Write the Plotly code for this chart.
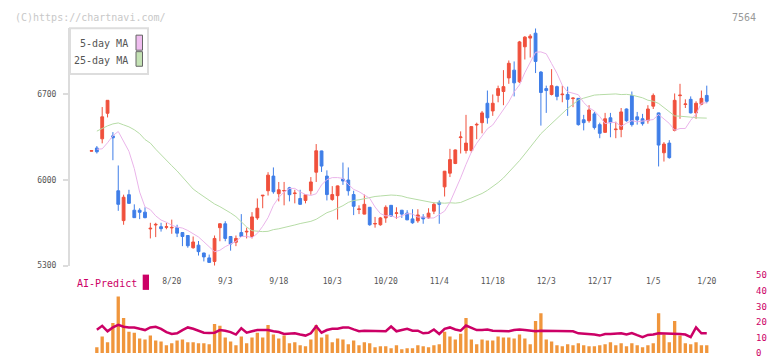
import plotly.graph_objects as go

W, H = 772, 361

# ---------------- data ----------------
opens = [6236, 6262, 6337, 6546, 6361, 5912, 5668, 5880, 5753, 5753,
         5737, 5600, 5632, 5618, 5613, 5608, 5610, 5570, 5546, 5446,
         5467, 5403, 5363, 5334, 5610, 5642, 5538, 5491, 5570, 5575,
         5538, 5690, 5870, 5912, 6032, 5888, 5910, 5936, 5889, 5849,
         5833, 5912, 6064, 6238, 6032, 5841, 5872, 6008, 6000, 5881,
         5759, 5721, 5777, 5640, 5634, 5690, 5793, 5727, 5753, 5729,
         5682, 5666, 5698, 5690, 5745, 5817, 5944, 6056, 6135, 6347,
         6241, 6241, 6450, 6469, 6628, 6565, 6692, 6724, 6835, 6899,
         6803, 7090, 7161, 7201, 6883, 6748, 6700, 6764, 6698, 6700,
         6666, 6668, 6493, 6485, 6541, 6453, 6390, 6509, 6412, 6414,
         6581, 6692, 6517, 6501, 6485, 6604, 6549, 6223, 6302, 6406,
         6690, 6618, 6660, 6549, 6620, 6692]
highs = [6242, 6278, 6597, 6652, 6392, 6119, 5880, 5920, 5801, 5769,
         5777, 5650, 5650, 5650, 5650, 5676, 5634, 5572, 5548, 5538,
         5501, 5405, 5390, 5546, 5645, 5663, 5540, 5546, 5721, 5610,
         5737, 5849, 5877, 6064, 6103, 5984, 5984, 5944, 5920, 5920,
         5882, 6024, 6294, 6240, 6079, 5950, 5955, 6143, 6103, 5912,
         5793, 5881, 5779, 5698, 5698, 5793, 5795, 5777, 5755, 5753,
         5761, 5761, 5721, 5769, 5817, 5833, 6074, 6255, 6250, 6398,
         6533, 6440, 6469, 6565, 6732, 6700, 6772, 6899, 6978, 6970,
         7138, 7177, 7193, 7241, 6891, 6772, 6907, 6772, 6772, 6764,
         6676, 6670, 6533, 6612, 6557, 6469, 6549, 6549, 6477, 6589,
         6585, 6724, 6557, 6541, 6612, 6708, 6551, 6310, 6326, 6708,
         6787, 6660, 6684, 6644, 6732, 6772]
lows = [6234, 6217, 6300, 6512, 6162, 5748, 5634, 5805, 5690, 5680,
        5687, 5522, 5533, 5578, 5597, 5560, 5533, 5459, 5446, 5438,
        5382, 5334, 5322, 5292, 5499, 5499, 5422, 5459, 5536, 5522,
        5522, 5674, 5769, 5873, 5888, 5825, 5793, 5825, 5809, 5799,
        5809, 5880, 5984, 6066, 5833, 5830, 5676, 5960, 5872, 5713,
        5721, 5719, 5626, 5610, 5626, 5650, 5698, 5682, 5690, 5672,
        5642, 5650, 5642, 5682, 5721, 5642, 5865, 6024, 6130, 6217,
        6217, 6225, 6334, 6382, 6461, 6525, 6636, 6612, 6787, 6684,
        6795, 6986, 7002, 6875, 6445, 6549, 6692, 6652, 6636, 6525,
        6596, 6445, 6406, 6469, 6413, 6342, 6388, 6350, 6342, 6350,
        6477, 6437, 6453, 6445, 6461, 6581, 6111, 6151, 6175, 6398,
        6501, 6589, 6545, 6501, 6612, 6628]
closes = [6240, 6231, 6517, 6652, 6345, 5801, 5859, 5809, 5692, 5736,
          5692, 5605, 5637, 5602, 5618, 5612, 5565, 5538, 5462, 5493,
          5414, 5371, 5326, 5522, 5642, 5522, 5477, 5522, 5538, 5580,
          5698, 5769, 5875, 6040, 5904, 5920, 5914, 5880, 5893, 5801,
          5880, 5984, 6239, 6114, 5881, 5881, 5952, 5992, 5912, 5785,
          5763, 5801, 5634, 5644, 5690, 5777, 5706, 5731, 5721, 5674,
          5650, 5714, 5682, 5729, 5801, 5801, 6072, 6167, 6246, 6352,
          6302, 6437, 6455, 6549, 6509, 6628, 6748, 6764, 6955, 6795,
          7130, 7169, 7177, 6970, 6716, 6732, 6772, 6684, 6702, 6660,
          6670, 6453, 6469, 6573, 6429, 6382, 6501, 6469, 6416, 6557,
          6485, 6453, 6493, 6461, 6581, 6692, 6286, 6294, 6183, 6652,
          6694, 6622, 6549, 6628, 6668, 6644]

# moving-average values at the first days (window reaches before the chart)
ma5_head = [6252, 6255, 6305, 6363]
ma25_head = [6400, 6424, 6443, 6459, 6467, 6451, 6435, 6411, 6379, 6331,
             6302, 6252, 6204, 6159, 6117, 6074, 6026, 5979, 5926, 5894,
             5862, 5835, 5804, 5782]

# lower panel (days 1..115)
volume = [3.75, 10.6, 6.9, 19.4, 36.3, 22.5, 13.75, 13.1, 9.4, 8.75,
          11.25, 8.1, 7.5, 5, 6.25, 8.1, 8.75, 6.9, 6.9, 6.25,
          6.25, 5.6, 18.75, 17.5, 10, 7.5, 5, 10.6, 6.25, 10,
          13.1, 10, 18.1, 11.9, 9.4, 11.25, 6.25, 6.9, 5, 4.4,
          8.75, 18.1, 10, 11.9, 6.9, 9.4, 8.75, 5.6, 8.1, 5,
          6.9, 6.25, 3.75, 4.4, 4.4, 3.1, 5, 2.5, 3.1, 3.1,
          5, 4.4, 3.75, 5, 5.6, 13.75, 10.6, 8.75, 12.5, 22.5,
          8.75, 5.6, 8.75, 8.1, 8.1, 10.6, 10, 10, 9.4, 11.9,
          9.4, 5.6, 20.6, 25.6, 8.75, 7.5, 5, 4.4, 5.6, 5,
          6.25, 5, 4.4, 4.4, 5, 5.6, 6.9, 5, 6.25, 4.4,
          6.25, 5, 3.75, 5, 6.25, 25.6, 11.9, 6.9, 20.6, 11.25,
          6.25, 5.6, 6.9, 5, 5]
ai_predict = [15.0, 17.5, 14.0, 16.5, 18.1, 16.9, 16.5, 16.5, 15.6, 14.8,
              16.5, 16.9, 15.6, 13.5, 12.3, 12.7, 14.8, 16.5, 15.6, 14.4,
              13.1, 12.9, 13.1, 14.8, 14.4, 13.5, 11.9, 16.0, 13.1, 14.0,
              14.8, 14.8, 14.8, 14.0, 13.5, 12.3, 12.3, 12.7, 11.9, 11.25,
              12.7, 17.3, 13.1, 14.8, 15.6, 15.6, 16.5, 16.5, 15.2, 14.0,
              14.4, 14.4, 14.0, 14.0, 14.0, 17.1, 14.0,
              14.8, 15.6, 14.4, 14.4, 12.7, 13.1, 15.2, 12.3, 15.6, 16.5,
              15.2, 14.4, 17.7, 16.0, 14.8, 14.8, 15.2, 14.4, 14.4, 14.4,
              14.0, 14.8, 15.2, 14.8, 14.4, 14.0, 14.4, 14.4, 14.4, 14.4,
              14.4, 14.4, 14.0, 12.7, 12.5, 12.5, 11.9, 11.25, 12.3, 12.3,
              12.7, 12.7, 11.9, 12.9, 11.5, 10.2, 11.7, 11.9, 12.7, 12.7,
              12.7, 12.7, 12.3, 11.9, 10.2, 16.5, 12.7, 12.7]

tick_labels = ["8/20", "9/3", "9/18", "10/3", "10/20", "11/4",
               "11/18", "12/3", "12/17", "1/5", "1/20"]
tick_days = [15, 25, 35, 45, 55, 65, 75, 85, 95, 105, 115]
price_ticks = [5300, 6000, 6700]
ai_ticks = [0, 10, 20, 30, 40, 50]

# ---------------- derived ----------------
n = len(closes)
days = list(range(n))


def moving_avg(head, win):
    out = [None] + list(head)
    for i in range(len(head) + 1, n):
        out.append(sum(closes[i - win:i]) / win)
    return out


ma5 = moving_avg(ma5_head, 5)
ma25 = moving_avg(ma25_head, 25)
low_days = list(range(1, n))

# ---------------- geometry helpers ----------------
def fx(px):
    return px / W


def fy(py):
    return 1 - py / H


X0, X1 = 70, 752
x_lo = (X0 - 91.5) / 5.35
x_hi = (X1 - 91.5) / 5.35
MONO = "DejaVu Sans Mono"
RED, BLUE = "#f0503c", "#3f7ee8"
PINK, GREEN = "#eab4ea", "#b6dca6"
MAG = "#cc0066"
AXC = "#dcdcdc"

fig = go.Figure()
fig.add_trace(go.Scatter(x=days, y=ma25, mode="lines", line=dict(color=GREEN, width=1),
                         xaxis="x", yaxis="y", hoverinfo="skip", showlegend=False))
fig.add_trace(go.Scatter(x=days, y=ma5, mode="lines", line=dict(color=PINK, width=1),
                         xaxis="x", yaxis="y", hoverinfo="skip", showlegend=False))
fig.add_trace(go.Candlestick(
    x=days, open=opens, high=highs, low=lows, close=closes,
    increasing=dict(line=dict(color=RED, width=1), fillcolor=RED),
    decreasing=dict(line=dict(color=BLUE, width=1), fillcolor=BLUE),
    xaxis="x", yaxis="y", showlegend=False, whiskerwidth=0))
fig.add_trace(go.Bar(x=low_days, y=volume, marker=dict(color="#f0963c", line=dict(width=0)),
                     width=0.62, xaxis="x2", yaxis="y2", showlegend=False, hoverinfo="skip"))
fig.add_trace(go.Scatter(x=low_days, y=ai_predict, mode="lines", line=dict(color=MAG, width=2.5),
                         xaxis="x2", yaxis="y2", showlegend=False, hoverinfo="skip"))

main_y = [fy(268), fy(24)]
low_y = [fy(358), fy(278)]
xdom = [fx(X0), fx(X1)]

fig.update_layout(
    width=W, height=H, margin=dict(l=0, r=0, t=0, b=0),
    paper_bgcolor="white", plot_bgcolor="white",
    showlegend=False, boxgap=0.25,
    xaxis=dict(domain=xdom, range=[x_lo, x_hi], anchor="y", rangeslider=dict(visible=False),
               showgrid=False, zeroline=False, showline=False, ticks="",
               tickvals=tick_days, ticktext=tick_labels, ticklabelstandoff=9,
               tickfont=dict(family=MONO, size=8, color="#555")),
    xaxis3=dict(overlaying="x", anchor="y", range=[0, 11], tickvals=list(range(1, 12)),
                showticklabels=False, ticks="inside", ticklen=3, tickcolor=AXC, tickwidth=2,
                showline=True, linecolor=AXC, linewidth=2, showgrid=False, zeroline=False),
    xaxis4=dict(overlaying="x", anchor="y", range=[0, 11], tickvals=list(range(1, 12)),
                showticklabels=False, ticks="outside", ticklen=2, tickcolor=AXC, tickwidth=2,
                showline=False, showgrid=False, zeroline=False),
    yaxis=dict(domain=main_y, range=[5300, 7240.9], anchor="x",
               tickvals=price_ticks, ticks="outside", ticklen=5, tickcolor=AXC, tickwidth=2,
               showline=True, linecolor=AXC, linewidth=2, showgrid=False, zeroline=False,
               ticklabelstandoff=5, tickfont=dict(family=MONO, size=8, color="#555")),
    yaxis3=dict(overlaying="y", anchor="x", range=[5300, 7240.9], tickvals=price_ticks,
                ticks="inside", ticklen=3, tickcolor=AXC, tickwidth=2, showticklabels=False,
                showline=False, showgrid=False, zeroline=False),
    xaxis2=dict(domain=xdom, range=[x_lo, x_hi], anchor="y2", visible=False),
    yaxis2=dict(domain=low_y, range=[0, 50], anchor="x2", side="right",
                tickvals=ai_ticks, ticks="", showline=False, showgrid=False, zeroline=False,
                ticklabelstandoff=3, tickfont=dict(family=MONO, size=9, color=MAG)),
)

shapes = [
    dict(type="rect", xref="paper", yref="paper", x0=fx(70), x1=fx(148), y0=fy(71), y1=fy(24),
         line=dict(color="#dddddd", width=2), fillcolor="white", layer="above"),
    dict(type="rect", xref="paper", yref="paper", x0=fx(136), x1=fx(142.5), y0=fy(46.5), y1=fy(31),
         line=dict(color="#666666", width=1), fillcolor="#efbdef", layer="above"),
    dict(type="rect", xref="paper", yref="paper", x0=fx(136), x1=fx(142.5), y0=fy(63), y1=fy(48),
         line=dict(color="#666666", width=1), fillcolor="#c4e2b4", layer="above"),
    dict(type="rect", xref="paper", yref="paper", x0=fx(142.7), x1=fx(149), y0=fy(293), y1=fy(277.3),
         line=dict(width=0), fillcolor=MAG, layer="above"),
]
annotations = [
    dict(text="(C)https://chartnavi.com/", x=fx(13), y=fy(12.5), xref="paper", yref="paper",
         xanchor="left", yanchor="middle", showarrow=False,
         font=dict(family=MONO, size=10, color="#c8c8c8")),
    dict(text="7564", x=fx(758), y=fy(12.5), xref="paper", yref="paper",
         xanchor="right", yanchor="middle", showarrow=False,
         font=dict(family=MONO, size=10, color="#999999")),
    dict(text="5-day MA", x=fx(130), y=fy(40), xref="paper", yref="paper",
         xanchor="right", yanchor="middle", showarrow=False,
         font=dict(family=MONO, size=10, color="#555")),
    dict(text="25-day MA", x=fx(130), y=fy(57), xref="paper", yref="paper",
         xanchor="right", yanchor="middle", showarrow=False,
         font=dict(family=MONO, size=10, color="#555")),
    dict(text="AI-Predict", x=fx(75), y=fy(286), xref="paper", yref="paper",
         xanchor="left", yanchor="middle", showarrow=False,
         font=dict(family=MONO, size=10, color=MAG)),
]
fig.update_layout(shapes=shapes, annotations=annotations)

fig.write_html(
    "out.html",
    config={"displayModeBar": False, "staticPlot": True},
    post_script=("document.documentElement.style.margin='0';"
                 "document.body.style.margin='0';document.body.style.padding='0';"
                 "document.body.style.overflow='hidden';"),
)
